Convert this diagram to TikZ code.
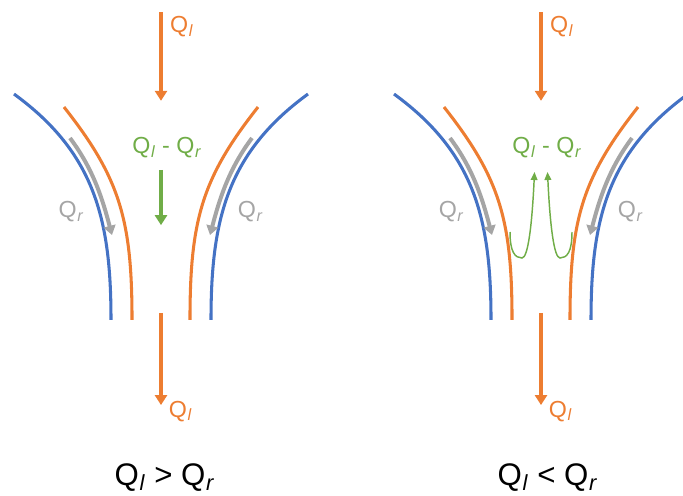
\documentclass[tikz,border=0pt]{standalone}
\usepackage{fontspec}
\setmainfont{Liberation Sans}
\usepackage{tikz}
\usetikzlibrary{arrows.meta}
\definecolor{offorange}{HTML}{ED7D31}
\definecolor{offblue}{HTML}{4472C4}
\definecolor{offgrey}{HTML}{A5A5A5}
\definecolor{offgreen}{HTML}{70AD47}
\newcommand{\Qs}[1]{Q\textsubscript{\kern0.5pt\textit{#1}}}

\begin{document}
\begin{tikzpicture}[
  wall/.style={line width=2.3pt},
  feed/.style={line width=2.4pt, offorange, -{Triangle[width=9pt,length=7.5pt]}},
  film/.style={line width=3pt, offgrey, -{Triangle[width=9pt,length=7pt]}},
  net/.style={line width=2.4pt, offgreen, -{Triangle[width=9pt,length=7.5pt]}},
  back/.style={line width=1.1pt, offgreen, -{Triangle[width=5pt,length=6pt]}},
  every node/.style={font=\fontsize{17.5}{21}\selectfont}]
\useasboundingbox (-4.26,0) rectangle (13.812,13.098);
%% --- both channels: walls, feed and outlet ---
\foreach \p/\dx in {L/0,R/10.055} {
\begin{scope}[xshift=\dx cm]
\coordinate (\p in) at (0,12.78);
\coordinate (\p inTip) at (0,10.43);
\coordinate (\p out) at (0,4.82);
\coordinate (\p outTip) at (0,2.38);
\draw[feed] (\p in) -- (\p inTip);
\draw[feed] (\p out) -- (\p outTip);
\node[offorange] (\p qin) at (0.55,12.40) {\Qs{l}};
\node[offorange] (\p qout) at (0.52,2.22) {\Qs{l}};
\foreach \s/\c in {1/a,-1/b} {
  \begin{scope}[xscale=\s]
  \draw[wall,offblue] (-3.890,10.610) .. controls (-1.746,9.049) and (-1.323,7.277) .. (-1.323,4.631);
  \draw[wall,offorange] (-2.567,10.266) .. controls (-1.085,8.388) and (-0.767,7.277) .. (-0.767,4.631);
  \coordinate (\p\c film) at (-2.408,9.446);
  \coordinate (\p\c filmTip) at (-1.297,6.880);
  \draw[film] (\p\c film) .. controls (-1.773,8.600) and (-1.535,7.779) .. (\p\c filmTip);
  \node[offgrey] (\p\c qr) at (-2.37,7.49) {\Qs{r}};
  \end{scope}
}
\node[offgreen] (\p net) at (0.16,9.18) {\Qs{l}\ -\ \Qs{r}};
\end{scope}
}
%% --- Left: net flow down ---
\coordinate (Lnet0) at (0,8.60);
\coordinate (Lnet1) at (0,7.14);
\draw[net] (Lnet0) -- (Lnet1);
\node[font=\fontsize{23.5}{28}\selectfont] (Lcap) at (0.10,0.45) {\Qs{l} > \Qs{r}};
%% --- Right: back flow up ---
\begin{scope}[xshift=10.055cm]
\foreach \s/\c in {1/a,-1/b} {
  \begin{scope}[xscale=\s]
  \coordinate (R\c b0) at (-0.820,6.959);
  \coordinate (R\c b1) at (-0.172,8.547);
  \draw[back] (R\c b0) .. controls (-0.820,6.430) and (-0.688,6.271) .. (-0.503,6.271)
    .. controls (-0.344,6.271) and (-0.238,7.144) .. (R\c b1);
  \end{scope}
}
\node[font=\fontsize{23.5}{28}\selectfont] (Rcap) at (0.18,0.45) {\Qs{l} < \Qs{r}};
\end{scope}
\end{tikzpicture}
\end{document}
